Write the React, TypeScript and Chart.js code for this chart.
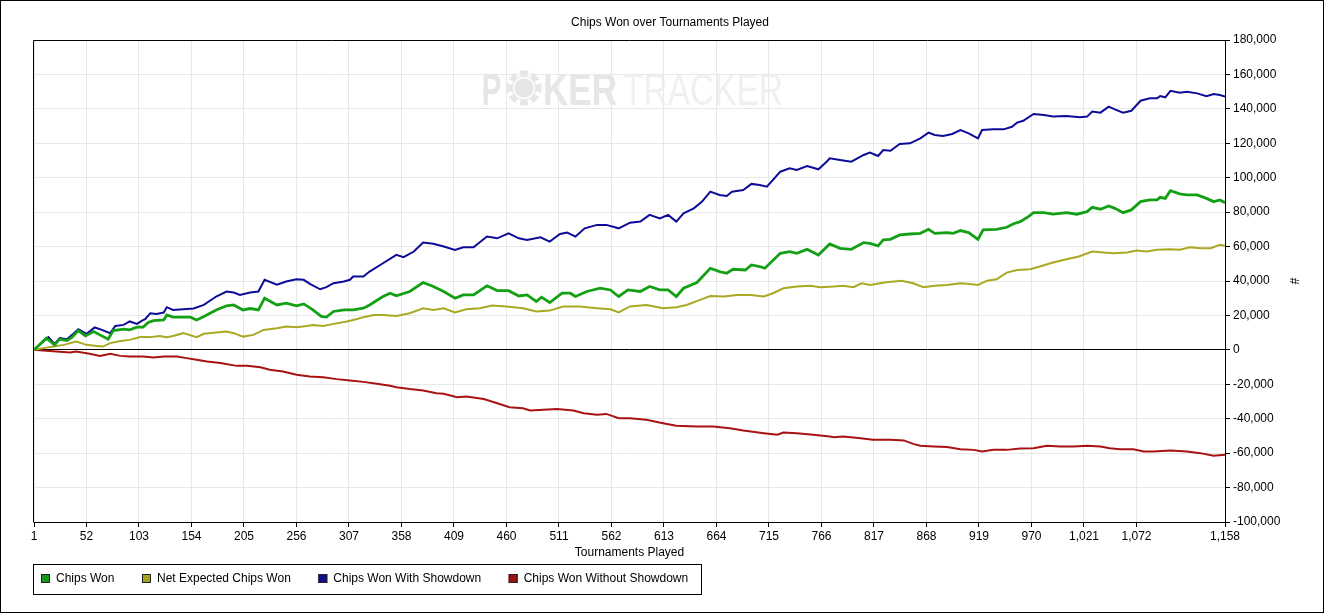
import React, { useEffect, useRef } from "react";
import { Chart, registerables } from "chart.js";

Chart.register(...registerables);

const FONT = "'Liberation Sans', Arial, sans-serif";

const chartTitle = "Chips Won over Tournaments Played";
const xAxisTitle = "Tournaments Played";
const yAxisTitle = "#";
const watermarkP = "P";
const watermarkKer = "KER";
const watermarkTracker = "TRACKER";

const xTickValues = [1, 52, 103, 154, 205, 256, 307, 358, 409, 460, 511, 562, 613, 664, 715, 766, 817, 868, 919, 970, 1021, 1072, 1158];
const xMin = 1;
const xMax = 1158;
const yMin = -100000;
const yMax = 180000;
const yStep = 20000;

const seriesNames = ["Chips Won", "Net Expected Chips Won", "Chips Won With Showdown", "Chips Won Without Showdown"];

// [tournament, chips]
const chipsWon: [number, number][] = [
  [1, 0], [13, 6800], [21, 2900], [26, 6200], [33, 5400], [38, 7400], [44, 11200], [51, 8100], [59, 10600], [65, 8700],
  [73, 6200], [78, 11200], [88, 12000], [94, 11600], [101, 13200], [107, 13200], [112, 15900], [117, 17000], [127, 17400], [130, 20300],
  [136, 19000], [146, 19000], [153, 19000], [159, 17400], [166, 19400], [178, 23200], [188, 25600], [195, 26100], [204, 23200], [211, 24000],
  [219, 23200], [225, 30000], [237, 26100], [246, 27100], [256, 25600], [263, 26700], [272, 23200], [280, 19400], [285, 19000], [292, 22300],
  [302, 23200], [311, 23200], [321, 24200], [327, 26100], [340, 31000], [347, 32900], [353, 31400], [366, 33900], [379, 39100], [389, 36800],
  [399, 33900], [410, 30000], [418, 31900], [428, 31900], [441, 37200], [451, 34400], [462, 34400], [472, 31300], [480, 31900], [489, 28100],
  [494, 30600], [502, 27500], [514, 32900], [522, 32900], [527, 31000], [538, 33900], [551, 35800], [561, 34800], [569, 31000], [578, 34800],
  [590, 33900], [599, 36800], [609, 34800], [617, 34800], [625, 31000], [632, 35800], [645, 39100], [658, 47400], [667, 45500], [674, 44500],
  [680, 46800], [692, 46400], [698, 49300], [706, 48400], [711, 47400], [726, 56100], [735, 57100], [742, 56100], [752, 58400], [763, 55100],
  [774, 61500], [784, 59000], [795, 58400], [807, 62300], [813, 61900], [821, 60400], [826, 63900], [833, 64200], [842, 66800], [852, 67300],
  [862, 67700], [870, 70000], [876, 67700], [888, 68100], [894, 67700], [901, 69300], [909, 68100], [918, 64200], [923, 69700], [936, 70000],
  [946, 71200], [952, 73100], [959, 74500], [967, 77400], [972, 79700], [982, 79700], [991, 78900], [1004, 79700], [1014, 78800], [1024, 80300],
  [1029, 82800], [1037, 81700], [1045, 83600], [1051, 82200], [1059, 79700], [1067, 81300], [1076, 86100], [1085, 87100], [1092, 87100], [1095, 88600],
  [1100, 88000], [1105, 92500], [1114, 90600], [1121, 90000], [1131, 90000], [1140, 88000], [1147, 86100], [1153, 87100], [1158, 85500],
];

const netExpectedChipsWon: [number, number][] = [
  [1, 0], [10, 1000], [20, 1900], [30, 2900], [42, 4800], [52, 2900], [62, 2300], [68, 1900], [75, 3900], [85, 5200],
  [94, 5800], [104, 7400], [114, 7400], [123, 8100], [130, 7400], [136, 8100], [146, 9700], [159, 7400], [166, 9300], [178, 10100],
  [188, 10600], [195, 9700], [204, 7700], [214, 8700], [224, 11600], [237, 12600], [246, 13600], [256, 13200], [266, 13900], [272, 14500],
  [282, 13900], [292, 15100], [305, 16500], [314, 17800], [321, 19000], [331, 20300], [340, 20300], [353, 19700], [366, 21300], [379, 24200],
  [389, 23200], [399, 24200], [410, 21700], [421, 23600], [434, 24200], [446, 25700], [460, 25200], [476, 24200], [489, 22300], [502, 22800],
  [515, 25200], [531, 25200], [548, 24200], [561, 23600], [569, 21700], [580, 25200], [596, 26100], [612, 24200], [625, 24800], [635, 26100],
  [648, 29000], [658, 31300], [671, 31000], [684, 31900], [697, 31900], [710, 31000], [719, 32900], [729, 35800], [742, 36800], [755, 37200],
  [765, 36400], [778, 36800], [787, 37200], [797, 36400], [805, 38700], [813, 37700], [823, 38700], [829, 39300], [844, 40100], [855, 38700],
  [865, 36400], [876, 37200], [888, 37700], [901, 38700], [910, 38300], [918, 37700], [927, 40200], [936, 41000], [946, 44900], [956, 46400],
  [969, 46800], [978, 48400], [991, 50700], [1004, 52600], [1016, 54200], [1029, 57100], [1040, 56500], [1050, 56100], [1063, 56500], [1072, 57700],
  [1082, 57100], [1092, 58100], [1105, 58400], [1114, 58100], [1124, 59600], [1134, 59000], [1144, 59000], [1153, 61000], [1158, 60400],
];

const chipsWonWithShowdown: [number, number][] = [
  [1, 0], [15, 7400], [21, 3500], [26, 6800], [33, 6200], [38, 8700], [44, 12000], [52, 9300], [60, 13000], [67, 11600],
  [75, 9700], [80, 13900], [88, 14500], [94, 16500], [101, 15100], [106, 17000], [109, 17800], [114, 21300], [120, 20900], [127, 21700],
  [130, 24800], [136, 23200], [146, 23600], [156, 24000], [166, 26100], [178, 31000], [188, 33900], [195, 33300], [201, 31900], [211, 33300],
  [219, 33900], [225, 40700], [237, 37800], [246, 39700], [256, 41000], [263, 40700], [269, 38300], [279, 35200], [285, 36400], [292, 38700],
  [302, 39700], [308, 40700], [311, 42600], [321, 42600], [327, 45500], [340, 50300], [353, 55200], [360, 53800], [370, 57100], [379, 62300],
  [389, 61600], [399, 60000], [410, 58100], [418, 59600], [428, 59600], [441, 65800], [451, 64800], [462, 67700], [472, 64800], [480, 63900],
  [493, 65400], [502, 62900], [512, 67300], [519, 68100], [527, 65800], [536, 70600], [548, 72600], [557, 72600], [569, 70600], [580, 73900],
  [590, 74500], [599, 78400], [609, 76400], [617, 78400], [625, 74500], [632, 79300], [642, 82200], [650, 86100], [658, 91900], [667, 90000],
  [674, 89400], [679, 91900], [690, 92900], [698, 96400], [706, 95800], [713, 94800], [726, 103500], [735, 105500], [742, 104500], [752, 106800],
  [763, 104900], [771, 109300], [774, 111300], [784, 110300], [795, 109300], [807, 113200], [813, 114600], [821, 112600], [826, 116100], [833, 115700],
  [842, 119600], [852, 120000], [862, 122900], [870, 126200], [876, 124800], [884, 124200], [893, 125400], [901, 127700], [909, 125800], [918, 122900],
  [922, 127700], [933, 128100], [943, 128100], [951, 129600], [956, 132000], [962, 133100], [972, 137000], [982, 136400], [991, 135500], [1004, 135800],
  [1017, 135100], [1024, 135500], [1029, 138400], [1037, 137800], [1045, 141300], [1051, 139700], [1059, 137800], [1067, 138900], [1076, 144700], [1085, 146100],
  [1092, 146100], [1095, 147400], [1100, 146700], [1105, 150500], [1114, 149400], [1121, 150000], [1131, 149000], [1140, 147400], [1147, 148600], [1153, 148000],
  [1158, 147100],
];

const chipsWonWithoutShowdown: [number, number][] = [
  [1, 0], [10, -400], [23, -1000], [36, -1500], [42, -1000], [55, -2300], [65, -3500], [75, -2300], [85, -3500], [94, -3900],
  [107, -3900], [117, -4500], [127, -3900], [140, -3900], [149, -4800], [159, -5800], [169, -6800], [182, -7700], [198, -9300], [208, -9300],
  [221, -10100], [230, -11600], [243, -12600], [256, -14500], [269, -15500], [282, -15900], [295, -17000], [308, -17800], [321, -18600], [334, -19700],
  [347, -20900], [353, -21700], [366, -22800], [379, -23600], [392, -25200], [399, -25500], [412, -27500], [421, -27100], [438, -28600], [451, -31000],
  [463, -33300], [476, -33900], [483, -35200], [496, -34800], [509, -34400], [525, -35200], [535, -36800], [548, -37700], [557, -37200], [569, -39700],
  [580, -39700], [596, -40600], [612, -42600], [625, -44100], [645, -44500], [661, -44500], [677, -45500], [690, -46800], [710, -48400], [723, -49300],
  [729, -48000], [742, -48400], [758, -49300], [774, -50300], [778, -50700], [787, -50300], [804, -51300], [816, -52200], [833, -52200], [846, -52600],
  [855, -54600], [862, -55700], [875, -56100], [888, -56500], [901, -57700], [914, -58100], [922, -59000], [933, -58100], [946, -58100], [959, -57300],
  [972, -57100], [985, -55700], [998, -56100], [1011, -56100], [1024, -55700], [1037, -56100], [1046, -57100], [1056, -57700], [1069, -57700], [1079, -59000],
  [1088, -59000], [1105, -58400], [1121, -59000], [1134, -60000], [1147, -61500], [1158, -61000],
];

const seriesData = [chipsWon, netExpectedChipsWon, chipsWonWithShowdown, chipsWonWithoutShowdown];
const lineColors = ["#14a014", "#aaa922", "#0c0c98", "#a81212"];
const legendColors = ["#16981a", "#a3a21f", "#10108e", "#a01010"];
const lineWidths = [2.8, 2, 2, 2];

const fmt = (v: number) => Number(v).toLocaleString("en-US");

const backgroundPlugin = {
  id: "bgWatermark",
  beforeDraw(chart: any) {
    const { ctx, chartArea, width, height } = chart;
    ctx.save();
    ctx.fillStyle = "#ffffff";
    ctx.fillRect(0, 0, width, height);
    const cx = (chartArea.left + chartArea.right) / 2;
    const base = chartArea.top + 65;
    const drawFitted = (text: string, left: number, targetW: number, weight: string, color: string) => {
      ctx.font = `${weight} 44px ${FONT}`;
      const w = ctx.measureText(text).width;
      ctx.save();
      ctx.translate(left, base);
      ctx.scale(targetW / w, 1);
      ctx.fillStyle = color;
      ctx.textBaseline = "alphabetic";
      ctx.textAlign = "left";
      ctx.fillText(text, 0, 0);
      ctx.restore();
    };
    drawFitted(watermarkP, cx - 148, 20, "bold", "#e6e6e6");
    const chipX = cx - 105.5;
    const chipY = base - 17;
    const r = 17.5;
    ctx.fillStyle = "#e6e6e6";
    ctx.beginPath();
    ctx.arc(chipX, chipY, r, 0, Math.PI * 2);
    ctx.fill();
    ctx.strokeStyle = "#ffffff";
    ctx.lineWidth = 4;
    for (let i = 0; i < 8; i++) {
      const a = (i * Math.PI) / 4 + Math.PI / 8;
      ctx.beginPath();
      ctx.moveTo(chipX + Math.cos(a) * (r - 5), chipY + Math.sin(a) * (r - 5));
      ctx.lineTo(chipX + Math.cos(a) * (r + 1), chipY + Math.sin(a) * (r + 1));
      ctx.stroke();
    }
    ctx.lineWidth = 1.5;
    ctx.beginPath();
    ctx.arc(chipX, chipY, r - 7, 0, Math.PI * 2);
    ctx.stroke();
    drawFitted(watermarkKer, cx - 86.5, 74, "bold", "#e6e6e6");
    drawFitted(watermarkTracker, cx - 6.5, 160, "normal", "#f0f0f0");
    ctx.restore();
  },
};

const framePlugin = {
  id: "frameLegend",
  afterDraw(chart: any) {
    const { ctx, chartArea } = chart;
    ctx.save();
    ctx.strokeStyle = "#000";
    ctx.lineWidth = 1;
    const l = Math.round(chartArea.left) - 0.5;
    const t = Math.round(chartArea.top) + 0.5;
    const r = Math.round(chartArea.right) + 0.5;
    const b = Math.round(chartArea.bottom) + 0.5;
    ctx.beginPath();
    ctx.moveTo(l, b);
    ctx.lineTo(l, t);
    ctx.lineTo(r, t);
    ctx.stroke();
    ctx.strokeRect(0.5, 0.5, 1323, 612);
    ctx.fillStyle = "#000";
    ctx.font = `12px ${FONT}`;
    ctx.textAlign = "center";
    ctx.textBaseline = "middle";
    ctx.fillText(chartTitle, 670, 23);
    ctx.strokeRect(33.5, 564.5, 668, 30);
    ctx.textAlign = "left";
    let x = 41;
    seriesNames.forEach((name, i) => {
      ctx.fillStyle = legendColors[i];
      ctx.fillRect(x, 574, 9, 9);
      ctx.strokeStyle = "#222";
      ctx.strokeRect(x + 0.5, 574.5, 8, 8);
      ctx.fillStyle = "#000";
      ctx.fillText(name, x + 15, 579);
      x += 15 + ctx.measureText(name).width + 27.5;
    });
    ctx.restore();
  },
};

export default function App() {
  const canvasRef = useRef<HTMLCanvasElement | null>(null);

  useEffect(() => {
    if (!canvasRef.current) return;
    const chart = new Chart(canvasRef.current, {
      type: "line",
      data: {
        datasets: seriesNames.map((name, i) => ({
          label: name,
          data: seriesData[i].map(([x, y]) => ({ x, y })),
          borderColor: lineColors[i],
          backgroundColor: lineColors[i],
          borderWidth: lineWidths[i],
          pointRadius: 0,
          tension: 0,
          fill: false,
        })),
      },
      options: {
        animation: false,
        responsive: false,
        devicePixelRatio: 1,
        events: [],
        layout: { padding: { left: 34, right: 0, top: 40, bottom: 50 } },
        plugins: {
          legend: { display: false },
          title: { display: false },
          tooltip: { enabled: false },
        },
        scales: {
          x: {
            type: "linear",
            position: "bottom",
            min: xMin,
            max: xMax,
            afterBuildTicks: (scale: any) => {
              scale.ticks = xTickValues.map((v) => ({ value: v }));
            },
            afterFit: (scale: any) => {
              scale.height = 42;
            },
            ticks: {
              autoSkip: false,
              maxRotation: 0,
              minRotation: 0,
              padding: 2,
              color: "#000",
              font: { family: FONT, size: 12 },
              callback: (v: any) => fmt(v),
            },
            grid: { color: "#e8e8e8", tickColor: "#000", tickLength: 5, lineWidth: 1 },
            border: { color: "#000", width: 1 },
            title: {
              display: true,
              text: xAxisTitle,
              color: "#000",
              font: { family: FONT, size: 12 },
              padding: { top: 0, bottom: 4 },
            },
          },
          y: {
            type: "linear",
            position: "right",
            min: yMin,
            max: yMax,
            afterFit: (scale: any) => {
              scale.width = 100;
            },
            ticks: {
              stepSize: yStep,
              padding: 3,
              color: "#000",
              font: { family: FONT, size: 12 },
              callback: (v: any) => fmt(v),
            },
            grid: {
              color: (c: any) => (c.tick && c.tick.value === 0 ? "#000" : "#e8e8e8"),
              tickColor: "#000",
              tickLength: 5,
              lineWidth: 1,
            },
            border: { color: "#000", width: 1 },
            title: {
              display: true,
              text: yAxisTitle,
              color: "#000",
              font: { family: FONT, size: 12 },
              padding: { top: 24, bottom: 0 },
            },
          },
        },
      } as any,
      plugins: [backgroundPlugin, framePlugin],
    });
    return () => chart.destroy();
  }, []);

  return (
    <div style={{ position: "absolute", left: 0, top: 0, width: 1325, height: 614, overflow: "hidden", background: "#fff" }}>
      <canvas ref={canvasRef} width={1325} height={614} style={{ display: "block" }} />
    </div>
  );
}
